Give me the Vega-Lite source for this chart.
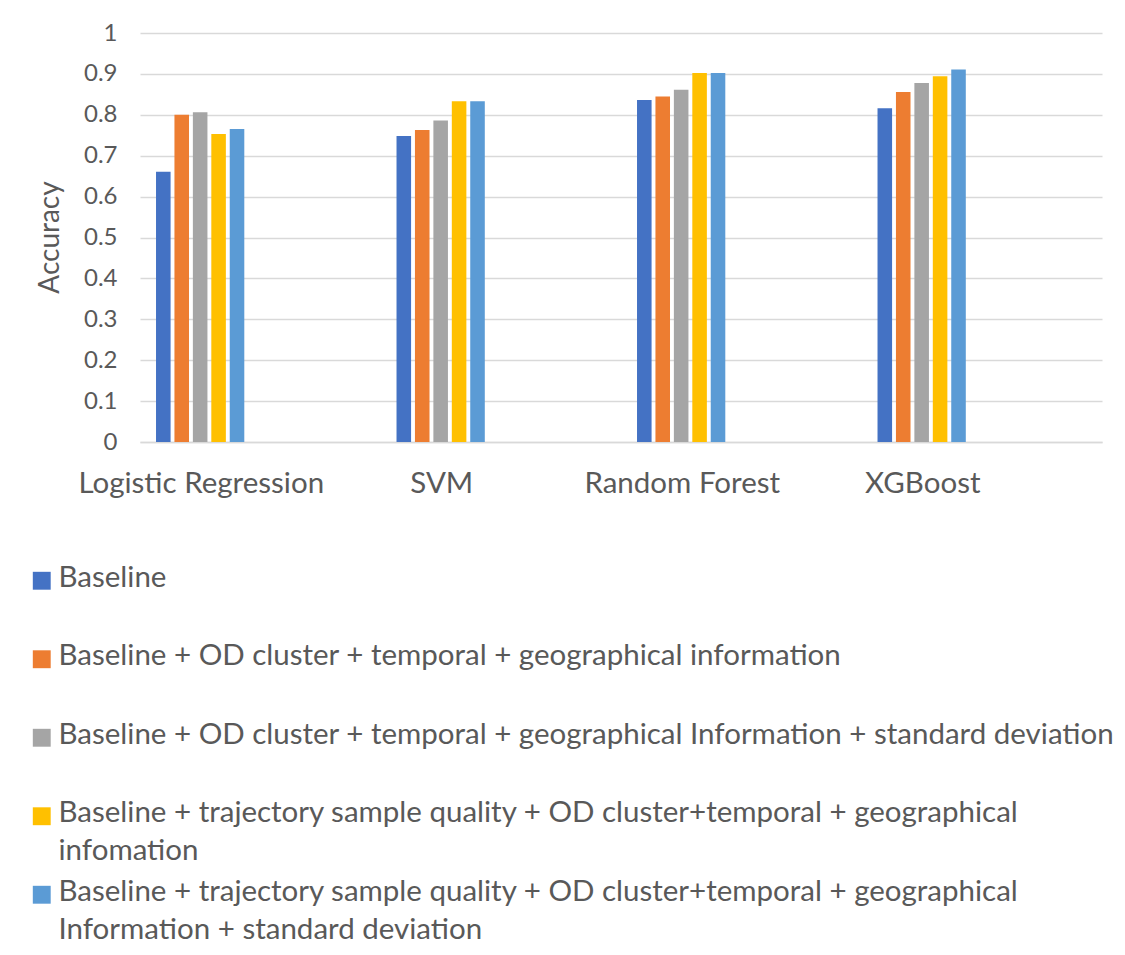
{
  "$schema": "https://vega.github.io/schema/vega-lite/v6.json",
  "width": 962,
  "height": 409,
  "autosize": {"type": "none"},
  "padding": {"left": 140, "top": 33, "right": 23, "bottom": 513},
  "background": "white",
  "config": {
    "view": {"stroke": null},
    "font": "Lato",
    "axis": {"labelColor": "#595959", "titleColor": "#595959", "labelFont": "Lato", "titleFont": "Lato"},
    "legend": {"labelFont": "Lato"}
  },
  "data": {
    "values": [
      {"model": "Logistic Regression", "feature": "Baseline", "accuracy": 0.661},
      {"model": "Logistic Regression", "feature": "Baseline + OD cluster + temporal + geographical information", "accuracy": 0.800},
      {"model": "Logistic Regression", "feature": "Baseline + OD cluster + temporal + geographical Information + standard deviation", "accuracy": 0.806},
      {"model": "Logistic Regression", "feature": "Baseline + trajectory sample quality + OD cluster+temporal + geographical infomation", "accuracy": 0.753},
      {"model": "Logistic Regression", "feature": "Baseline + trajectory sample quality + OD cluster+temporal + geographical Information + standard deviation", "accuracy": 0.765},
      {"model": "SVM", "feature": "Baseline", "accuracy": 0.748},
      {"model": "SVM", "feature": "Baseline + OD cluster + temporal + geographical information", "accuracy": 0.763},
      {"model": "SVM", "feature": "Baseline + OD cluster + temporal + geographical Information + standard deviation", "accuracy": 0.786},
      {"model": "SVM", "feature": "Baseline + trajectory sample quality + OD cluster+temporal + geographical infomation", "accuracy": 0.833},
      {"model": "SVM", "feature": "Baseline + trajectory sample quality + OD cluster+temporal + geographical Information + standard deviation", "accuracy": 0.833},
      {"model": "Random Forest", "feature": "Baseline", "accuracy": 0.836},
      {"model": "Random Forest", "feature": "Baseline + OD cluster + temporal + geographical information", "accuracy": 0.845},
      {"model": "Random Forest", "feature": "Baseline + OD cluster + temporal + geographical Information + standard deviation", "accuracy": 0.861},
      {"model": "Random Forest", "feature": "Baseline + trajectory sample quality + OD cluster+temporal + geographical infomation", "accuracy": 0.902},
      {"model": "Random Forest", "feature": "Baseline + trajectory sample quality + OD cluster+temporal + geographical Information + standard deviation", "accuracy": 0.902},
      {"model": "XGBoost", "feature": "Baseline", "accuracy": 0.816},
      {"model": "XGBoost", "feature": "Baseline + OD cluster + temporal + geographical information", "accuracy": 0.856},
      {"model": "XGBoost", "feature": "Baseline + OD cluster + temporal + geographical Information + standard deviation", "accuracy": 0.878},
      {"model": "XGBoost", "feature": "Baseline + trajectory sample quality + OD cluster+temporal + geographical infomation", "accuracy": 0.894},
      {"model": "XGBoost", "feature": "Baseline + trajectory sample quality + OD cluster+temporal + geographical Information + standard deviation", "accuracy": 0.911}
    ]
  },
  "mark": {"type": "bar"},
  "encoding": {
    "x": {
      "field": "model",
      "type": "nominal",
      "sort": ["Logistic Regression", "SVM", "Random Forest", "XGBoost"],
      "scale": {"paddingInner": 0, "paddingOuter": 0},
      "axis": {
        "title": null,
        "labelAngle": 0,
        "labelOffset": -59,
        "labelFontSize": 29.5,
        "labelLimit": 400,
        "labelPadding": 27,
        "ticks": false,
        "domainColor": "#D9D9D9",
        "domainWidth": 1.3
      }
    },
    "xOffset": {
      "field": "feature",
      "type": "nominal",
      "scale": {
        "domain": [
          "Baseline",
          "Baseline + OD cluster + temporal + geographical information",
          "Baseline + OD cluster + temporal + geographical Information + standard deviation",
          "Baseline + trajectory sample quality + OD cluster+temporal + geographical infomation",
          "Baseline + trajectory sample quality + OD cluster+temporal + geographical Information + standard deviation",
          "slot6", "slot7", "slot8", "slot9", "slot10", "slot11", "slot12"
        ],
        "paddingInner": 0.21,
        "paddingOuter": 0.63,
        "align": 0.69
      }
    },
    "y": {
      "field": "accuracy",
      "type": "quantitative",
      "scale": {"domain": [0, 1], "nice": false},
      "axis": {
        "title": "Accuracy",
        "titleFontSize": 28,
        "titleFontWeight": "normal",
        "titleAngle": 270,
        "titleX": -90,
        "titleY": 204,
        "titleAlign": "center",
        "titleBaseline": "middle",
        "values": [0, 0.1, 0.2, 0.3, 0.4, 0.5, 0.6, 0.7, 0.8, 0.9, 1],
        "labelExpr": "datum.value == 0 ? '0' : datum.value == 1 ? '1' : format(datum.value, '.1f')",
        "labelFontSize": 24,
        "labelPadding": 23,
        "ticks": false,
        "domain": false,
        "gridColor": "#D9D9D9",
        "gridWidth": 1.3
      }
    },
    "color": {
      "field": "feature",
      "type": "nominal",
      "scale": {
        "domain": [
          "Baseline",
          "Baseline + OD cluster + temporal + geographical information",
          "Baseline + OD cluster + temporal + geographical Information + standard deviation",
          "Baseline + trajectory sample quality + OD cluster+temporal + geographical infomation",
          "Baseline + trajectory sample quality + OD cluster+temporal + geographical Information + standard deviation"
        ],
        "range": ["#4472C4", "#ED7D31", "#A5A5A5", "#FFC000", "#5B9BD5"]
      },
      "legend": {
        "title": null,
        "orient": "none",
        "legendX": -113,
        "legendY": 533,
        "direction": "vertical",
        "gridAlign": "all",
        "symbolType": "square",
        "symbolSize": 320,
        "symbolStrokeWidth": 0,
        "labelFontSize": 29.5,
        "labelColor": "#595959",
        "labelOffset": 2,
        "labelLimit": 1200,
        "labelBaseline": "top",
        "rowPadding": 9.5,
        "labelExpr": "datum.label == 'Baseline + trajectory sample quality + OD cluster+temporal + geographical infomation' ? ['Baseline + trajectory sample quality + OD cluster+temporal + geographical', 'infomation'] : datum.label == 'Baseline + trajectory sample quality + OD cluster+temporal + geographical Information + standard deviation' ? ['Baseline + trajectory sample quality + OD cluster+temporal + geographical', 'Information + standard deviation'] : datum.label",
        "encoding": {
          "labels": {"dy": {"value": -17}, "lineHeight": {"value": 38}}
        }
      }
    }
  }
}
